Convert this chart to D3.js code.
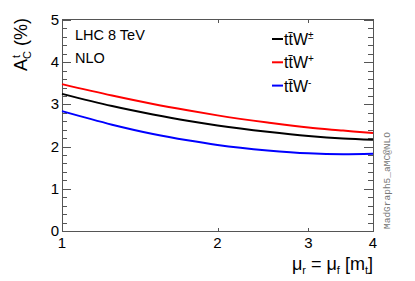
<!DOCTYPE html>
<html>
<head>
<meta charset="utf-8">
<script src="https://cdn.jsdelivr.net/npm/d3@7"></script>
<style>
	body { margin: 0; background: #fff; }
	text { font-family: "Liberation Sans", Arial, sans-serif; }
</style>
</head>
<body>
<script>
var width = 415;
var height = 281;

// scale values mu_r = mu_f in units of m_t
var scales = [1, 1.25, 1.5, 1.75, 2, 2.5, 3, 3.5, 4];
var ttWpm = [3.25, 2.96, 2.76, 2.61, 2.50, 2.35, 2.25, 2.19, 2.16];
var ttWplus = [3.48, 3.21, 3.01, 2.86, 2.74, 2.57, 2.45, 2.38, 2.32];
var ttWminus = [2.84, 2.52, 2.30, 2.15, 2.04, 1.91, 1.84, 1.82, 1.83];

var seriesNames = ["\u00b1", "+", "-"];
var seriesColors = ["#000000", "#ff0000", "#0000ff"];
var seriesValues = [ttWpm, ttWplus, ttWminus];

var xTicks = [1, 2, 3, 4];
var yTicks = [0, 1, 2, 3, 4, 5];

(function() {

	var padL = 62, padR = 373, padT = 20, padB = 231;
	var axisColor = "#555";

	var x = d3.scaleLog().domain([1, 4]).range([padL, padR]);
	var y = d3.scaleLinear().domain([0, 5]).range([padB, padT]);

	var svg = d3.select("body").append("svg")
		.attr("width", width).attr("height", height);

	// frame
	svg.append("rect").attr("x", padL + 0.5).attr("y", padT - 0.5)
		.attr("width", padR - padL).attr("height", padB - padT + 1)
		.attr("fill", "none").attr("stroke", axisColor).attr("stroke-width", 1);

	// y ticks (left and mirrored right), 5 subdivisions per unit
	var yMinor = d3.range(0, 26).map(function(i) { return i * 0.2; });
	yMinor.forEach(function(v) {
		var major = Math.abs(v - Math.round(v)) < 1e-6;
		var len = major ? 9 : 5;
		var yy = Math.round(y(v)) + 0.5;
		svg.append("line").attr("x1", padL).attr("x2", padL + len)
			.attr("y1", yy).attr("y2", yy).attr("stroke", axisColor);
		svg.append("line").attr("x1", padR).attr("x2", padR - len)
			.attr("y1", yy).attr("y2", yy).attr("stroke", axisColor);
	});

	yTicks.forEach(function(v) {
		svg.append("text").attr("x", 59).attr("y", y(v) + 5)
			.attr("text-anchor", "end").attr("font-size", 15).text(v);
	});

	// x ticks (log axis)
	xTicks.forEach(function(v) {
		var xx = Math.round(x(v)) + 0.5;
		if (v > 1 && v < 4) {
			svg.append("line").attr("x1", xx).attr("x2", xx)
				.attr("y1", padB).attr("y2", padB - 3).attr("stroke", axisColor);
			svg.append("line").attr("x1", xx).attr("x2", xx)
				.attr("y1", padT).attr("y2", padT + 3).attr("stroke", axisColor);
		}
		svg.append("text").attr("x", x(v)).attr("y", 248)
			.attr("text-anchor", "middle").attr("font-size", 15).text(v);
	});

	// curves
	var line = d3.line()
		.x(function(d, i) { return x(scales[i]); })
		.y(function(d) { return y(d); })
		.curve(d3.curveMonotoneX);

	seriesValues.forEach(function(vals, k) {
		svg.append("path").datum(vals).attr("d", line)
			.attr("fill", "none").attr("stroke", seriesColors[k]).attr("stroke-width", 2);
	});

	// legend
	seriesNames.forEach(function(name, k) {
		var ly = 39 + k * 23.3;
		svg.append("line").attr("x1", 272).attr("x2", 283)
			.attr("y1", ly).attr("y2", ly)
			.attr("stroke", seriesColors[k]).attr("stroke-width", 2);
		var t = svg.append("text").attr("x", 284).attr("y", ly + 6).attr("font-size", 16);
		t.append("tspan").text("tt\u0304W");
		t.append("tspan").attr("dy", -6).attr("font-size", 10).text(name);
	});

	// labels
	svg.append("text").attr("x", 75).attr("y", 40).attr("font-size", 14.5).text("LHC 8 TeV");
	svg.append("text").attr("x", 75).attr("y", 63).attr("font-size", 14.5).text("NLO");

	var yt = svg.append("g").attr("transform", "translate(27,18) rotate(-90)");
	var ytt = yt.append("text").attr("text-anchor", "end").attr("font-size", 18);
	ytt.append("tspan").text("A");
	ytt.append("tspan").attr("font-size", 11).attr("dy", -7).attr("dx", 1).text("t");
	ytt.append("tspan").attr("font-size", 11).attr("dy", 11).attr("dx", -4).text("C");
	ytt.append("tspan").attr("dy", -4).text(" (%)");

	var xt = svg.append("text").attr("x", 373).attr("y", 270)
		.attr("text-anchor", "end").attr("font-size", 18);
	xt.append("tspan").text("\u03bc");
	xt.append("tspan").attr("font-size", 11).attr("dy", 4).text("r");
	xt.append("tspan").attr("dy", -4).text(" = \u03bc");
	xt.append("tspan").attr("font-size", 11).attr("dy", 4).text("f");
	xt.append("tspan").attr("dy", -4).text(" [m");
	xt.append("tspan").attr("font-size", 11).attr("dy", 4).text("t");
	xt.append("tspan").attr("dy", -4).text("]");

	svg.append("text")
		.attr("transform", "translate(390,229) rotate(-90)")
		.style("font-family", "'Liberation Mono', 'DejaVu Sans Mono', monospace")
		.attr("font-size", 9.5).attr("fill", "#777")
		.text("MadGraph5_aMC@NLO");

})();
</script>
</body>
</html>
